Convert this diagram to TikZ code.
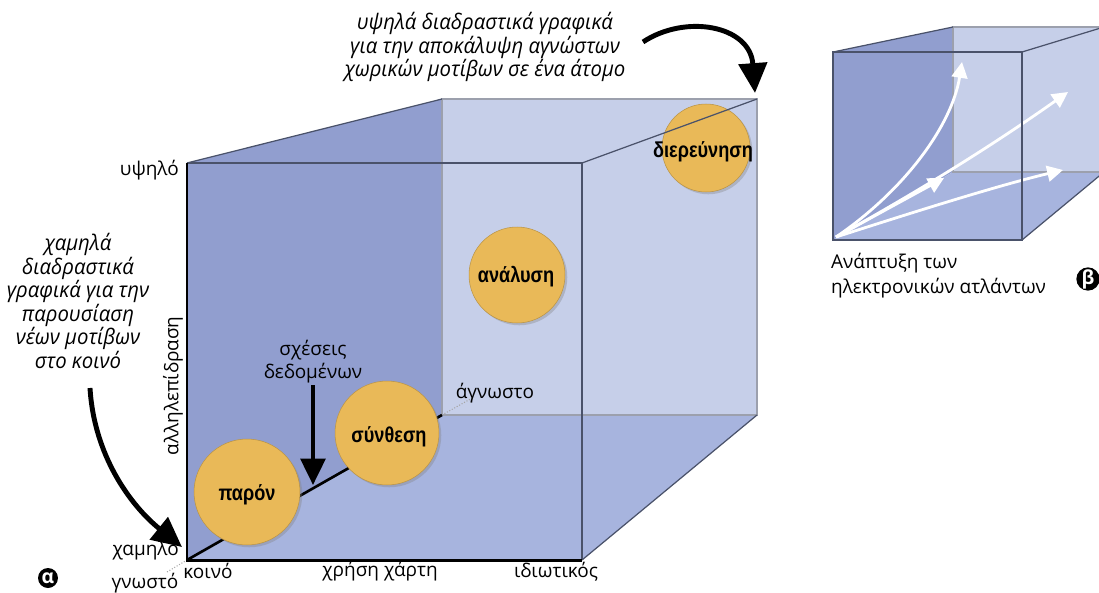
\documentclass[tikz,border=0pt]{standalone}
\usepackage{fontspec}
\setmainfont{Open Sans}
\newfontfamily\notefont[FakeStretch=0.95]{Open Sans}
\newfontfamily\stagefont[FakeStretch=0.84]{Liberation Sans}
\usetikzlibrary{arrows.meta, shadows}

\definecolor{sidedark}{RGB}{145, 158, 207}
\definecolor{backlight}{RGB}{198, 207, 233}
\definecolor{floorblue}{RGB}{167, 180, 222}
\definecolor{edgegray}{RGB}{74, 82, 106}
\definecolor{stagegold}{RGB}{233, 185, 88}

\begin{document}
\begin{tikzpicture}[x=0.02cm, y=-0.02cm,
    stage/.style={circle, fill=stagegold, draw=stagegold!80!black, line width=0.3pt, inner sep=0pt,
      drop shadow={shadow xshift=1.3pt, shadow yshift=-1.3pt, opacity=0.35}},
    stagetext/.style={font=\stagefont\bfseries\fontsize{12.3}{14}\selectfont},
    axislbl/.style={font=\fontsize{10.8}{13}\selectfont, inner sep=1pt},
    note/.style={font=\notefont\itshape\fontsize{12.2}{13.4}\selectfont, align=center, inner sep=0pt},
    bigarrow/.style={line width=2.8pt, -{Triangle[length=17pt, width=16pt]}},
    atlasarrow/.style={white, line width=1.6pt, -{Triangle[length=9pt, width=9pt]}},
    badge/.style={circle, fill=black, text=white, inner sep=0pt, minimum size=0.4cm,
      font=\bfseries\fontsize{11}{11}\selectfont}]

  \useasboundingbox (0, 0) rectangle (1099, 592);
  \clip (0, 0) rectangle (1099, 592);

  % cube corners (front / back)
  \coordinate (fTL) at (187, 163);
  \coordinate (fTR) at (582, 163);
  \coordinate (fBL) at (187, 560);
  \coordinate (fBR) at (582, 560);
  \coordinate (bTL) at (442, 99);
  \coordinate (bTR) at (757, 99);
  \coordinate (bBL) at (442, 415);
  \coordinate (bBR) at (757, 415);

  % faces
  \fill[backlight] (bTL) rectangle (bBR);
  \fill[backlight] (fTR) -- (bTR) -- (bBR) -- (fBR) -- cycle;
  \fill[sidedark] (fTL) -- (bTL) -- (bBL) -- (fBL) -- cycle;
  \fill[floorblue] (fBL) -- (bBL) -- (bBR) -- (fBR) -- cycle;
  \draw[edgegray!55, line width=0.6pt] (bTL) rectangle (bBR);
  \draw[edgegray, line width=0.7pt] (fTL) -- (bTL) (fBR) -- (bBR);

  % known -> unknown
  \draw[gray!70, densely dotted, line width=0.6pt] (167, 572) -- (fBL);
  \draw[gray!70, densely dotted, line width=0.6pt] (bBL) -- (474, 397);
  \draw[line width=1.5pt] (fBL) -- (bBL);

  % stages
  \node[stage, minimum size=2.12cm] (paron) at (247, 492) {};
  \node[stage, minimum size=2.08cm] (synth) at (387, 433) {};
  \node[stage, minimum size=1.92cm] (analysis) at (517, 275) {};
  \node[stage, minimum size=1.76cm] (explore) at (706, 148) {};
  \node[stagetext] (paronT) at (247, 495) {παρόν};
  \node[stagetext] (synthT) at (389, 437) {σύνθεση};
  \node[stagetext] (analysisT) at (516, 277) {ανάλυση};
  \node[stagetext] (exploreT) at (703, 152) {διερεύνηση};

  % front edges
  \draw[edgegray, line width=0.7pt] (fTR) -- (bTR);
  \draw[edgegray, line width=1.1pt] (fTL) -- (fTR) -- (fBR);
  \draw[line width=1.7pt] (fTL) -- (fBL) -- (fBR);

  % axes
  \node[axislbl, anchor=east] (high) at (181, 170) {υψηλό};
  \node[axislbl, anchor=east] (low) at (181, 550) {χαμηλό};
  \node[axislbl, rotate=90] (interact) at (173, 386) {αλληλεπίδραση};
  \node[axislbl] (common) at (208, 571) {κοινό};
  \node[axislbl] (mapuse) at (380, 571) {χρήση χάρτη};
  \node[axislbl] (private) at (556, 572) {ιδιωτικός};
  \node[axislbl] (known) at (145, 583) {γνωστό};
  \node[axislbl] (unknown) at (495, 393) {άγνωστο};

  % data relations
  \node[axislbl, align=center] (datarel) at (313, 362) {σχέσεις\\δεδομένων};
  \coordinate (datatip) at (313, 485);
  \draw[line width=2.3pt, -{Triangle[length=15pt, width=14pt]}] (datarel.south) -- (datatip);

  % notes
  \node[note] (lownote) at (78, 301) {χαμηλά\\διαδραστικά\\γραφικά για την\\παρουσίαση\\νέων μοτίβων\\στο κοινό};
  \coordinate (lowstart) at (90, 388);
  \coordinate (lowtip) at (182, 547);
  \draw[bigarrow] (lowstart) .. controls (94, 455) and (130, 505) .. (lowtip);

  \node[note] (highnote) at (485, 47) {υψηλά διαδραστικά γραφικά\\για την αποκάλυψη αγνώστων\\χωρικών μοτίβων σε ένα άτομο};
  \coordinate (highstart) at (643, 42);
  \coordinate (hightip) at (755, 93);
  \draw[bigarrow] (highstart) .. controls (685, 14) and (750, 25) .. (hightip);

  % atlas cube
  \coordinate (aTL) at (833, 52);
  \coordinate (aTR) at (1022, 52);
  \coordinate (aBL) at (833, 240);
  \coordinate (aBR) at (1022, 240);
  \coordinate (cTL) at (953, 27);
  \coordinate (cTR) at (1104, 27);
  \coordinate (cBL) at (953, 172);
  \coordinate (cBR) at (1104, 172);

  \fill[backlight] (cTL) rectangle (cBR);
  \fill[backlight] (aTR) -- (cTR) -- (cBR) -- (aBR) -- cycle;
  \fill[sidedark] (aTL) -- (cTL) -- (cBL) -- (aBL) -- cycle;
  \fill[floorblue] (aBL) -- (cBL) -- (cBR) -- (aBR) -- cycle;
  \draw[edgegray!55, line width=0.6pt] (cTL) rectangle (cBR);
  \draw[edgegray, line width=0.7pt] (aTL) -- (cTL) (aTR) -- (cTR) (aBR) -- (cBR);

  \coordinate (origin) at (836, 237);
  \draw[atlasarrow] (origin) .. controls (905, 190) and (952, 125) .. (962, 62);
  \draw[atlasarrow] (origin) .. controls (930, 185) and (1000, 140) .. (1068, 92);
  \draw[atlasarrow] (origin) .. controls (920, 210) and (1000, 185) .. (1063, 170);
  \draw[atlasarrow] (origin) -- (944, 178);

  \draw[edgegray, line width=0.8pt] (aTL) rectangle (aBR);

  \node[axislbl, align=left, anchor=west, font=\fontsize{10.8}{14.2}\selectfont] (atlas) at (829, 276) {Ανάπτυξη των\\ηλεκτρονικών ατλάντων};

  % panel badges
  \node[badge] (alpha) at (48, 578) {α};
  \node[badge] (beta) at (1088, 279) {β};
\end{tikzpicture}
\end{document}
